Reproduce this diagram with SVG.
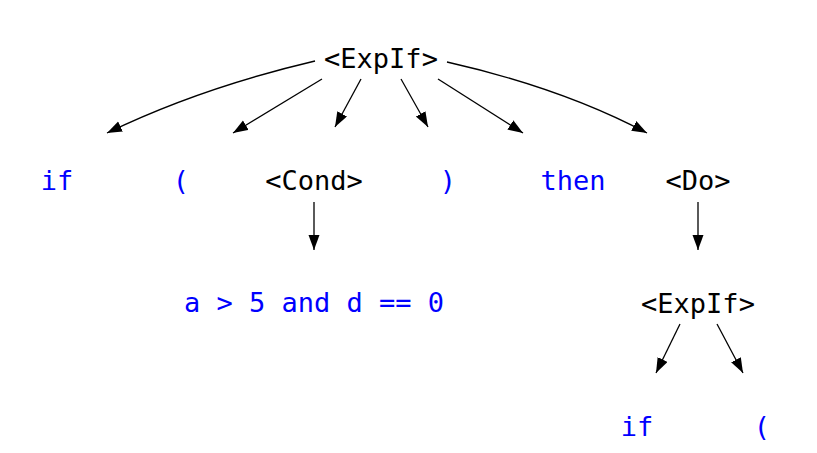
<svg xmlns="http://www.w3.org/2000/svg" width="817" height="453" viewBox="0 0 817 453">
<style>
text{font-family:"DejaVu Sans Mono",monospace;font-size:27px;text-anchor:middle}
.nt{fill:#000000}
.t{fill:#0000ff}
.e{fill:none;stroke:#000000;stroke-width:1.3;marker-end:url(#ah)}
</style>
<defs>
<marker id="ah" markerUnits="userSpaceOnUse" markerWidth="16" markerHeight="12" refX="15" refY="5.5" orient="auto">
<path d="M0,0 L15,5.5 L0,11 Z" fill="#000000"/>
</marker>
</defs>
<rect width="817" height="453" fill="#ffffff"/>
<g id="connectors">
<path class="e" d="M315,61 Q200,88 107,133"/>
<path class="e" d="M322,79 L233,133"/>
<path class="e" d="M361,79 L335,127"/>
<path class="e" d="M401,79 L428,127"/>
<path class="e" d="M438,79 L523,133"/>
<path class="e" d="M447,62 Q562,88 647,133"/>
<path class="e" d="M314,202 L314,250"/>
<path class="e" d="M698,202 L698,250"/>
<path class="e" d="M680,324 L656,373"/>
<path class="e" d="M717,324 L743,373"/>
</g>
<g id="n_expif1"><text class="nt" x="381" y="68">&lt;ExpIf&gt;</text></g>
<g id="n_if1"><text class="t" x="57" y="190">if</text></g>
<g id="n_lp1"><text class="t" x="181" y="190">(</text></g>
<g id="n_cond"><text class="nt" x="314" y="190">&lt;Cond&gt;</text></g>
<g id="n_rp1"><text class="t" x="448" y="190">)</text></g>
<g id="n_then"><text class="t" x="573" y="190">then</text></g>
<g id="n_do"><text class="nt" x="698" y="190">&lt;Do&gt;</text></g>
<g id="n_condexpr"><text class="t" x="314" y="312" xml:space="preserve">a &gt; 5 and d == 0</text></g>
<g id="n_expif2"><text class="nt" x="698" y="313">&lt;ExpIf&gt;</text></g>
<g id="n_if2"><text class="t" x="637" y="436">if</text></g>
<g id="n_lp2"><text class="t" x="762" y="436">(</text></g>
</svg>
